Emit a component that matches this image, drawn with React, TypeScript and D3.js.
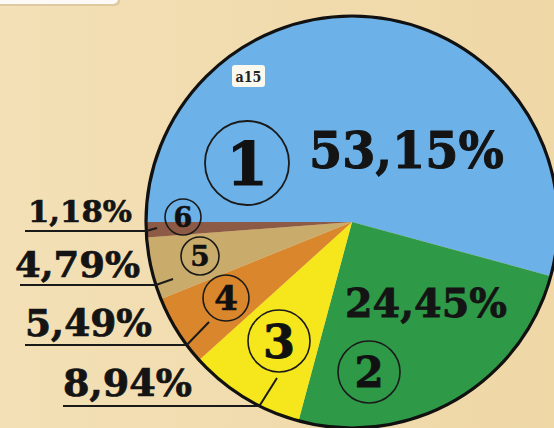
import React from 'react';
import * as d3 from 'd3';

// slice data, in drawing order (clockwise from 9 o'clock)
const sliceIds = ['1', '2', '3', '4', '5', '6'];
const sliceValues = [53.15, 24.45, 8.94, 5.49, 4.79, 1.18];
const sliceLabels = ['53,15%', '24,45%', '8,94%', '5,49%', '4,79%', '1,18%'];
const sliceColors = ['#6cb2e8', '#2e9a48', '#f6e61c', '#d9862c', '#c9ab6b', '#8c5a45'];
const badgeText = 'a15';

const W = 554;
const H = 428;
const cx = 352;
const cy = 222;
const R = 206;

// circled numbers: [x, y, radius, fontSize]
const markerLayout: [number, number, number, number][] = [
  [247, 163, 42, 60],
  [369, 372, 31, 42],
  [279, 341, 31, 46],
  [226, 298, 23, 34],
  [200, 256, 19, 28],
  [183, 217, 18, 27],
];

// percentage labels: [x, baseline, width, fontSize]
const valueLayout: [number, number, number, number][] = [
  [309, 168, 195, 50],
  [345, 317, 162, 40],
  [63, 396, 129, 37],
  [25, 336, 127, 37],
  [15, 277, 125, 36],
  [28, 222, 104, 29],
];

// leader lines for outside labels: [underlineY, tickEndX, tickEndY]
const leaderLayout: Record<number, [number, number, number]> = {
  2: [406, 277, 378],
  3: [345, 209, 322],
  4: [285, 173, 279],
  5: [231, 157, 228],
};
const leaderStart: Record<number, number> = { 2: 63, 3: 25, 4: 20, 5: 25 };

const serif = '"DejaVu Serif", "Liberation Serif", serif';

export default function App() {
  const pie = d3
    .pie<number>()
    .sort(null)
    .value((d) => d)
    .startAngle(-Math.PI / 2)
    .endAngle((3 * Math.PI) / 2);
  const arcs = pie(sliceValues);
  const arc = d3.arc<d3.PieArcDatum<number>>().innerRadius(0).outerRadius(R);

  const edgeX = (y: number) => cx - Math.sqrt(Math.max(0, R * R - (y - cy) * (y - cy)));

  return (
    <svg
      width={W}
      height={H}
      style={{ position: 'absolute', left: 0, top: 0 }}
      xmlns="http://www.w3.org/2000/svg"
    >
      <defs>
        <linearGradient id="bg" x1="0" y1="0" x2="1" y2="0">
          <stop offset="0" stopColor="#f3e0b6" />
          <stop offset="1" stopColor="#efd7a6" />
        </linearGradient>
      </defs>
      <rect width={W} height={H} fill="url(#bg)" />
      {/* white tab at top left */}
      <rect x={-10} y={-10} width={130} height={16} rx={5} fill="#c9b48f" opacity={0.5} />
      <rect x={-10} y={-10} width={128} height={14} rx={5} fill="#fbfaf6" />

      <g transform={`translate(${cx},${cy})`}>
        {arcs.map((a, i) => (
          <path key={i} d={arc(a) || ''} fill={sliceColors[i]} />
        ))}
        <circle r={R} fill="none" stroke="#111" strokeWidth={3.2} />
      </g>

      {/* badge */}
      <rect x={232} y={65} width={33} height={22} rx={3} fill="#fbf8ee" />
      <text
        x={248.5}
        y={82}
        textAnchor="middle"
        fontFamily={serif}
        fontWeight="bold"
        fontSize={14}
        fill="#222"
        textLength={26}
        lengthAdjust="spacingAndGlyphs"
      >
        {badgeText}
      </text>

      {/* leader lines */}
      {Object.keys(leaderLayout).map((k) => {
        const i = +k;
        const [uy, tx, ty] = leaderLayout[i];
        const ex = edgeX(uy);
        return (
          <g key={k} stroke="#1a1a1a" strokeWidth={2} fill="none">
            <line x1={leaderStart[i]} y1={uy} x2={ex} y2={uy} />
            <line x1={ex} y1={uy} x2={tx} y2={ty} />
          </g>
        );
      })}

      {/* percentage labels */}
      {sliceLabels.map((t, i) => {
        const [x, y, w, fs] = valueLayout[i];
        return (
          <text
            key={t}
            x={x}
            y={y}
            fontFamily={serif}
            fontWeight="bold"
            fontSize={fs}
            fill="#141414"
            stroke="#141414"
            strokeWidth={fs * 0.02}
            textLength={w}
            lengthAdjust="spacingAndGlyphs"
          >
            {t}
          </text>
        );
      })}

      {/* circled slice numbers */}
      {sliceIds.map((id, i) => {
        const [x, y, r, fs] = markerLayout[i];
        return (
          <g key={id}>
            <circle cx={x} cy={y} r={r} fill="none" stroke="#1a1a1a" strokeWidth={i === 0 ? 1.8 : 1.6} />
            <text
              x={x}
              y={y + fs * 0.36}
              textAnchor="middle"
              fontFamily={serif}
              fontWeight="bold"
              fontSize={fs}
              fill="#111"
              stroke="#111"
              strokeWidth={fs * 0.02}
            >
              {id}
            </text>
          </g>
        );
      })}
    </svg>
  );
}
